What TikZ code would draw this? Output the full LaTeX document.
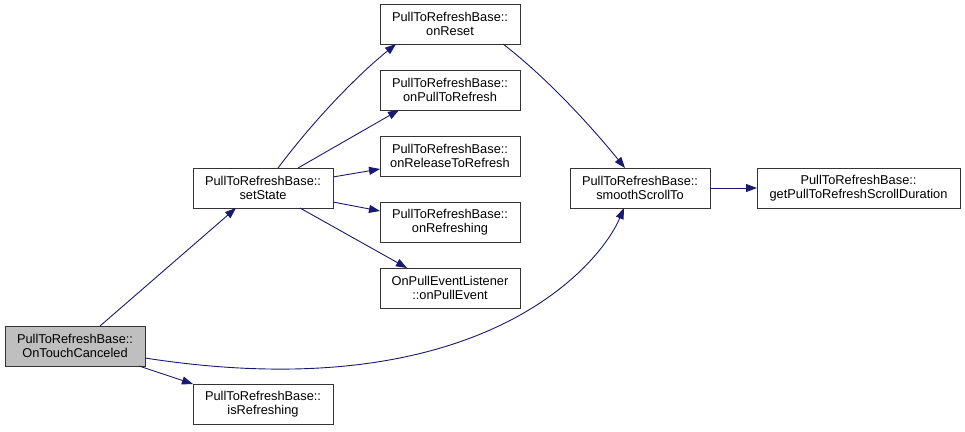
\documentclass[tikz,border=0pt]{standalone}
\usepackage{fontspec}
\setmainfont{Liberation Sans}
\usepackage{xcolor}
\usepackage{tikz}
\usetikzlibrary{arrows.meta,positioning}
\definecolor{edgeblue}{HTML}{191970}
\definecolor{nodegray}{HTML}{BFBFBF}

\begin{document}
\begin{tikzpicture}[
    x=1pt,y=-1pt,
    fn/.style={draw=black!80,line width=0.9pt,fill=white,minimum width=140pt,minimum height=40pt,
      inner sep=1pt,outer sep=0pt,align=center,font=\fontsize{12.8}{14}\selectfont},
    call/.style={draw=edgeblue,line width=0.9pt,->},
    >={Triangle[length=11pt,width=8pt]}
  ]
    \useasboundingbox (0,0) rectangle (965,431);
    \node[fn,fill=nodegray] (cancel) at (75,346) {PullToRefreshBase::\\OnTouchCanceled};
    \node[fn] (setstate) at (263,188) {PullToRefreshBase::\\setState};
    \node[fn] (isref) at (263,404) {PullToRefreshBase::\\isRefreshing};
    \node[fn] (reset) at (450,24) {PullToRefreshBase::\\onReset};
    \node[fn,below=26pt of reset] (pulltoref) {PullToRefreshBase::\\onPullToRefresh};
    \node[fn,below=26pt of pulltoref] (release) {PullToRefreshBase::\\onReleaseToRefresh};
    \node[fn,below=26pt of release] (refreshing) {PullToRefreshBase::\\onRefreshing};
    \node[fn,below=26pt of refreshing] (pullevent) {OnPullEventListener\\::onPullEvent};
    \node[fn] (smooth) at (640,188) {PullToRefreshBase::\\smoothScrollTo};
    \node[fn,minimum width=203pt,right=47pt of smooth] (duration) {PullToRefreshBase::\\getPullToRefreshScrollDuration};
    % calls from OnTouchCanceled
    \draw[call] ([xshift=25pt]cancel.north) -- ([xshift=-27pt]setstate.south);
    \draw[call] ([xshift=-6pt]cancel.south east) -- (isref.north west);
    \draw[call] ([yshift=-12pt]cancel.east) .. controls (480,410) and (600,265) .. ([xshift=-16pt]smooth.south);
    % calls from setState
    \draw[call] ([xshift=15pt]setstate.north) .. controls (311,124) and (353,79) .. ([xshift=16pt]reset.south west);
    \draw[call] ([xshift=35pt]setstate.north) -- ([xshift=19pt]pulltoref.south west);
    \draw[call] ([yshift=11pt]setstate.east) -- ([yshift=-13pt]release.west);
    \draw[call] ([yshift=-14pt]setstate.east) -- ([yshift=11pt]refreshing.west);
    \draw[call] ([xshift=37pt]setstate.south) -- ([xshift=27pt]pullevent.north west);
    % smoothScrollTo
    \draw[call] ([xshift=-17pt]reset.south east) .. controls (547,78) and (590,125) .. ([xshift=-15pt]smooth.north);
    \draw[call] (smooth) -- (duration);
\end{tikzpicture}
\end{document}
